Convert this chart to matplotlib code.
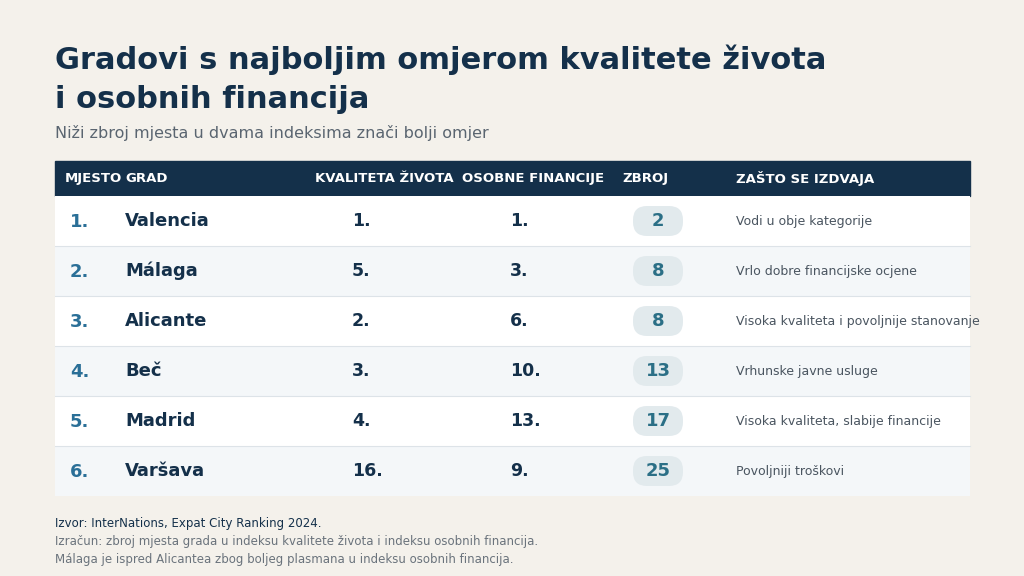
import matplotlib
matplotlib.use("Agg")
import matplotlib.pyplot as plt
from matplotlib.patches import Rectangle, FancyBboxPatch

plt.rcParams['font.family'] = ['DejaVu Sans']

ranks = ["1.", "2.", "3.", "4.", "5.", "6."]
cities = ["Valencia", "Málaga", "Alicante", "Beč", "Madrid", "Varšava"]
quality = ["1.", "5.", "2.", "3.", "4.", "16."]
finance = ["1.", "3.", "6.", "10.", "13.", "9."]
totals = [2, 8, 8, 13, 17, 25]
reasons = ["Vodi u obje kategorije", "Vrlo dobre financijske ocjene",
           "Visoka kvaliteta i povoljnije stanovanje", "Vrhunske javne usluge",
           "Visoka kvaliteta, slabije financije", "Povoljniji troškovi"]
headers = ["MJESTO", "GRAD", "KVALITETA ŽIVOTA", "OSOBNE FINANCIJE", "ZBROJ", "ZAŠTO SE IZDVAJA"]

BG = "#f4f1eb"; NAVY = "#14304a"; BLUE = "#2a6f97"; TEAL = "#2b6f86"
fig = plt.figure(figsize=(10.24, 5.76), dpi=100, facecolor=BG)
ax = fig.add_axes([0, 0, 1, 1]); ax.set_xlim(0, 1024); ax.set_ylim(576, 0); ax.axis('off')

ax.text(55, 60, "Gradovi s najboljim omjerom kvalitete života", fontsize=22, fontweight='bold', color=NAVY, va='center')
ax.text(55, 99, "i osobnih financija", fontsize=22, fontweight='bold', color=NAVY, va='center')
ax.text(55, 133, "Niži zbroj mjesta u dvama indeksima znači bolji omjer", fontsize=11.5, color="#5a6570", va='center')

L, R, top, hh, rh = 55, 970, 161, 35, 50
ax.add_patch(Rectangle((L, top), R - L, hh, color=NAVY))
hx = [(65, 'left'), (125, 'left'), (384, 'center'), (533, 'center'), (622, 'left'), (736, 'left')]
for (x, ha), h in zip(hx, headers):
    ax.text(x, top + hh / 2, h, fontsize=9.5, fontweight='bold', color='white', ha=ha, va='center')

for i in range(len(cities)):
    y0 = top + hh + i * rh
    yc = y0 + rh / 2
    ax.add_patch(Rectangle((L, y0), R - L, rh, color='white' if i % 2 == 0 else "#f4f7f9", lw=0))
    if i > 0:
        ax.plot([L, R], [y0, y0], color="#dde3e8", lw=0.8)
    ax.text(70, yc + 1, ranks[i], fontsize=13, fontweight='bold', color=BLUE, va='center')
    ax.text(125, yc, cities[i], fontsize=13, fontweight='bold', color=NAVY, va='center')
    ax.text(352, yc, quality[i], fontsize=12.5, fontweight='bold', color=NAVY, va='center')
    ax.text(510, yc, finance[i], fontsize=12.5, fontweight='bold', color=NAVY, va='center')
    ax.add_patch(FancyBboxPatch((633 + 14, yc - 15), 50 - 28, 30,
                                boxstyle="round,pad=0,rounding_size=14", mutation_aspect=1,
                                color="#e2eaed", lw=0))
    ax.add_patch(FancyBboxPatch((633, yc - 15), 50, 30, boxstyle="round,pad=0,rounding_size=14",
                                color="#e2eaed", lw=0))
    ax.text(658, yc, str(totals[i]), fontsize=13, fontweight='bold', color=TEAL, ha='center', va='center')
    ax.text(736, yc, reasons[i], fontsize=9, color="#4a5560", va='center')

ax.text(55, 523, "Izvor: InterNations, Expat City Ranking 2024.", fontsize=8.5, color=NAVY, va='center')
ax.text(55, 542, "Izračun: zbroj mjesta grada u indeksu kvalitete života i indeksu osobnih financija.", fontsize=8.5, color="#6a737c", va='center')
ax.text(55, 560, "Málaga je ispred Alicantea zbog boljeg plasmana u indeksu osobnih financija.", fontsize=8.5, color="#6a737c", va='center')

fig.savefig("out.png", dpi=100, facecolor=BG)
